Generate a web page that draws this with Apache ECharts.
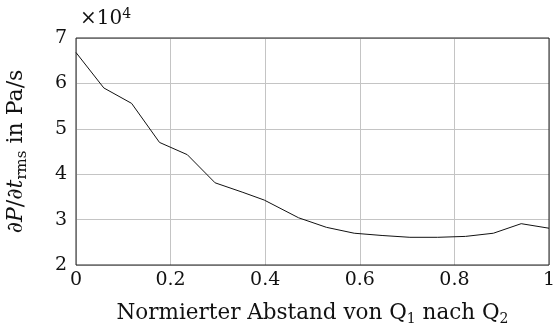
<!DOCTYPE html>
<html>
<head>
<meta charset="utf-8">
<style>
  html, body { margin: 0; padding: 0; background: #fff; }
  #chart { width: 555px; height: 329px; }
</style>
<script src="https://cdn.jsdelivr.net/npm/echarts@6/dist/echarts.min.js"></script>
</head>
<body>
<div id="chart"></div>
<script>
// normierter Abstand (x) und dP/dt rms in 1e4 Pa/s (y)
var xPos = [0, 0.0588, 0.1176, 0.1765, 0.2353, 0.2941, 0.3529, 0.398, 0.402, 0.4706,
            0.5294, 0.5882, 0.6471, 0.7059, 0.7647, 0.8235, 0.8824, 0.9412, 1.0];
var dpdt = [6.68, 5.90, 5.56, 4.70, 4.43, 3.81, 3.60, 3.43, 3.40, 3.04,
            2.83, 2.70, 2.65, 2.61, 2.61, 2.63, 2.70, 2.91, 2.81];
var xTicks = [0, 0.2, 0.4, 0.6, 0.8, 1];
var yTicks = [2, 3, 4, 5, 6, 7];

var serif = 'DejaVu Serif';
var chart = echarts.init(document.getElementById('chart'));

var data = xPos.map(function (x, i) { return [x, dpdt[i]]; });

var option = {
    animation: false,
    textStyle: { fontFamily: serif },
    grid: {
        left: 76, right: 6, top: 38, bottom: 64,
        outerBoundsMode: 'none',
        containLabel: false,
        show: true, borderColor: '#222', borderWidth: 1, z: 3
    },
    xAxis: {
        type: 'value',
        min: 0, max: 1, interval: 0.2,
        axisLine: { show: false },
        axisTick: { show: false },
        splitLine: { lineStyle: { color: '#c4c4c4', width: 1 } },
        axisLabel: {
            color: '#111', fontSize: 19, fontFamily: serif, margin: 6,
            formatter: function (v) { return xTicks.indexOf(+v.toFixed(1)) >= 0 ? String(+v.toFixed(1)) : ''; }
        },
        name: '{t|Normierter Abstand von Q}{s|1}{t| nach Q}{s|2}',
        nameLocation: 'middle',
        nameGap: 35,
        nameTextStyle: {
            rich: {
                t: { fontSize: 21.5, fontFamily: serif, color: '#111' },
                s: { fontSize: 14, fontFamily: serif, color: '#111', padding: [12, 0, 0, 0] }
            }
        }
    },
    yAxis: {
        type: 'value',
        min: 2, max: 7, interval: 1,
        axisLine: { show: false },
        axisTick: { show: false },
        splitLine: { lineStyle: { color: '#c4c4c4', width: 1 } },
        axisLabel: {
            color: '#111', fontSize: 19, fontFamily: serif, margin: 9,
            formatter: function (v) { return yTicks.indexOf(v) >= 0 ? String(v) : ''; }
        },
        name: '{t|\u2202}{i|P}{t|/\u2202}{i|t}{s|rms}{t| in Pa/s}',
        nameLocation: 'middle',
        nameRotate: 90,
        nameGap: 46,
        nameTextStyle: {
            rich: {
                t: { fontSize: 22, fontFamily: serif, color: '#111' },
                i: { fontSize: 22, fontFamily: serif, fontStyle: 'italic', color: '#111' },
                s: { fontSize: 15, fontFamily: serif, color: '#111', padding: [12, 0, 0, 0] }
            }
        }
    },
    graphic: [{
        type: 'text',
        left: 80, top: 7,
        style: {
            text: '{t|\u00d710}{e|4}',
            rich: {
                t: { fontSize: 20, fontFamily: serif, fill: '#111' },
                e: { fontSize: 14, fontFamily: serif, fill: '#111', padding: [0, 0, 10, 0] }
            }
        }
    }],
    series: [{
        type: 'line',
        data: data,
        showSymbol: false,
        lineStyle: { color: '#111', width: 1 },
        z: 4
    }]
};

chart.setOption(option);
</script>
</body>
</html>
